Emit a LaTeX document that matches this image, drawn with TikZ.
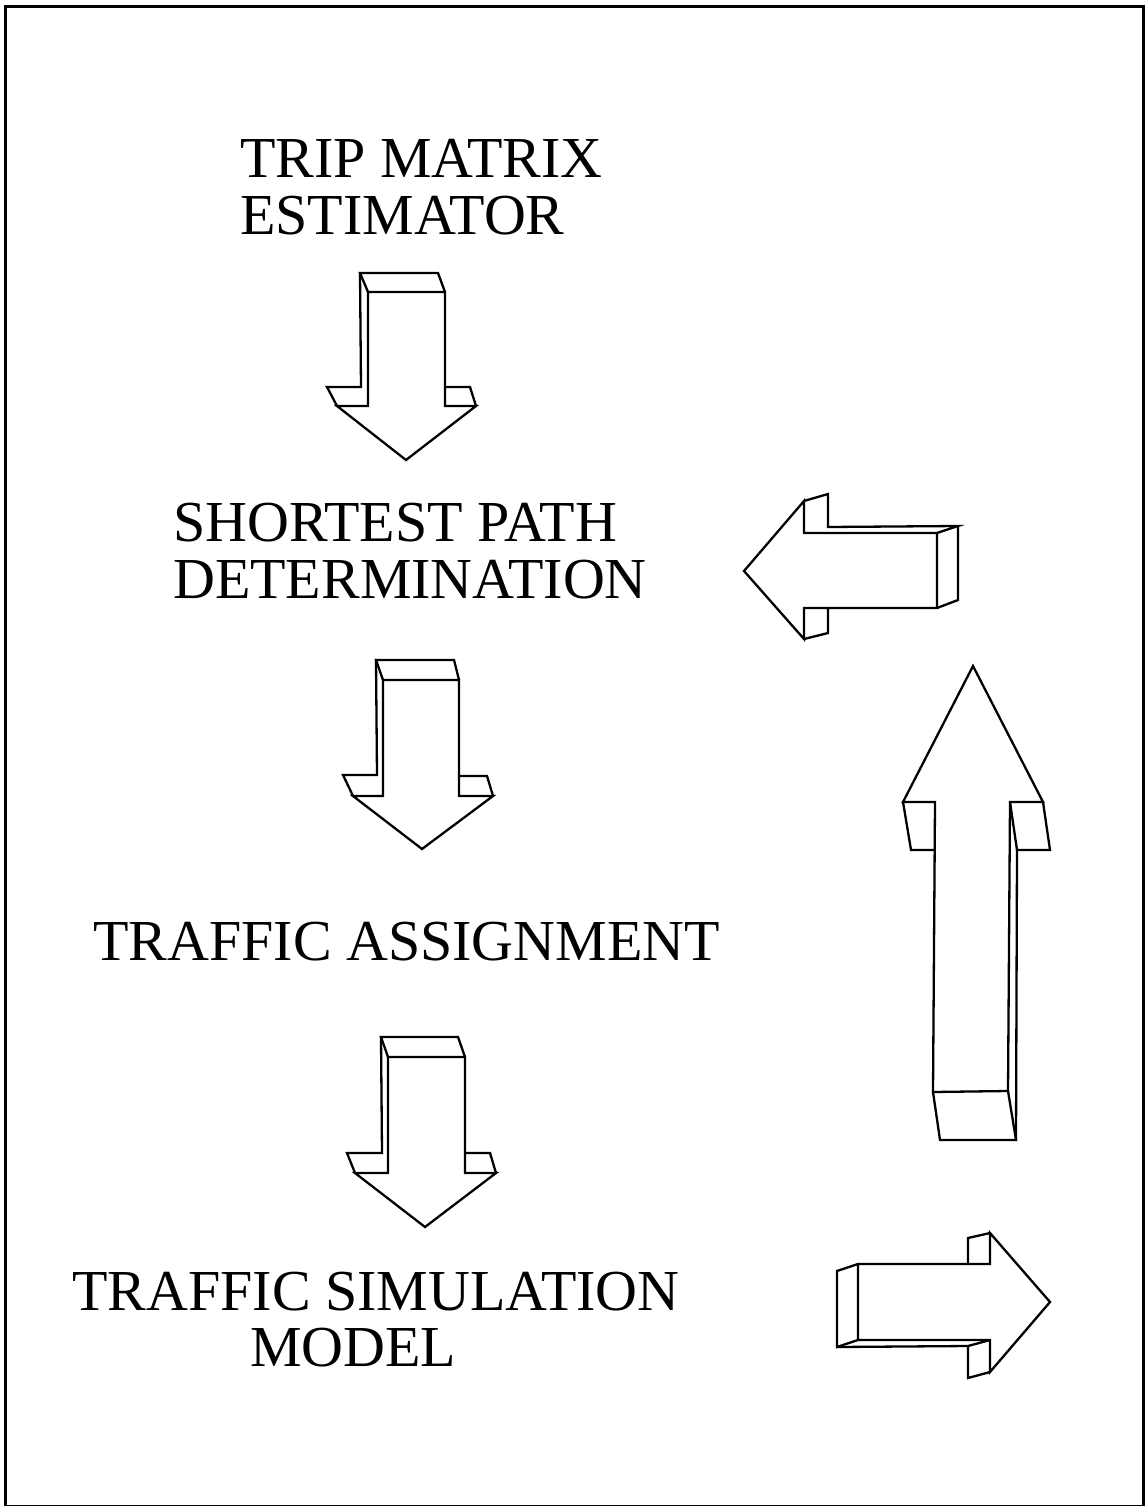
\documentclass[tikz,border=0pt]{standalone}
\usepackage{fontspec}
\setmainfont{Liberation Serif}
\begin{document}
\begin{tikzpicture}[x=1pt,y=-1pt,
  label/.style={anchor=base west,inner sep=0pt,font=\fontsize{58}{58}\selectfont},
  edge/.style={line width=2.3pt,line join=miter,line cap=round},
  frame/.style={line width=3pt}]
\useasboundingbox (0,0) rectangle (1147,1506);
\draw[frame] (5,7) rectangle (1143,1506);

% labels
\node[label] (trip)   at (240,178)  {TRIP MATRIX};
\node[label] (est)    at (240,235)  {ESTIMATOR};
\node[label] (short)  at (173,541)  {SHORTEST PATH};
\node[label] (det)    at (173,598)  {DETERMINATION};
\node[label] (assign) at (93,960)   {TRAFFIC ASSIGNMENT};
\node[label] (sim)    at (72,1310)  {TRAFFIC SIMULATION};
\node[label] (model)  at (250,1366) {MODEL};

% block arrow 1 (down)
\draw[edge] (368,292) -- (445,292) -- (445,406) -- (476,406) -- (406,460) -- (337,406) -- (368,406) -- cycle;
\draw[edge] (368,292) -- (360,273) -- (438,273) -- (445,292);
\draw[edge] (360,273) -- (361,387) -- (327,387) -- (337,406);
\draw[edge] (445,387) -- (470,387) -- (476,406);

% block arrow 2 (down)
\draw[edge] (383,680) -- (459,680) -- (459,796) -- (493,796) -- (422,849) -- (353,796) -- (383,796) -- cycle;
\draw[edge] (383,680) -- (376,660) -- (454,660) -- (459,680);
\draw[edge] (376,660) -- (377,775) -- (343,775) -- (353,796);
\draw[edge] (459,776) -- (487,776) -- (493,796);

% block arrow 3 (down)
\draw[edge] (388,1057) -- (465,1057) -- (465,1173) -- (496,1173) -- (425,1227) -- (355,1173) -- (388,1173) -- cycle;
\draw[edge] (388,1057) -- (381,1037) -- (458,1037) -- (465,1057);
\draw[edge] (381,1037) -- (382,1153) -- (347,1153) -- (355,1173);
\draw[edge] (465,1153) -- (490,1153) -- (496,1173);

% block arrow pointing left
\draw[edge] (744,571) -- (804,501) -- (804,533) -- (937,533) -- (937,608) -- (804,608) -- (804,639) -- cycle;
\draw[edge] (804,501) -- (828,494) -- (828,527) -- (958,526) -- (937,533);
\draw[edge] (958,526) -- (958,600) -- (937,608);
\draw[edge] (804,639) -- (828,633) -- (828,608);

% block arrow pointing up
\draw[edge] (973,666) -- (1043,802) -- (1010,802) -- (1008,1091) -- (933,1092) -- (935,802) -- (903,802) -- cycle;
\draw[edge] (903,802) -- (911,850) -- (935,850);
\draw[edge] (1043,802) -- (1050,850) -- (1017,850) -- (1010,802);
\draw[edge] (1017,850) -- (1016,1140);
\draw[edge] (933,1092) -- (940,1140) -- (1016,1140) -- (1008,1091);

% block arrow pointing right
\draw[edge] (1050,1302) -- (990,1233) -- (990,1264) -- (858,1264) -- (858,1340) -- (990,1340) -- (990,1372) -- cycle;
\draw[edge] (990,1233) -- (968,1238) -- (968,1264);
\draw[edge] (858,1264) -- (837,1271) -- (837,1347) -- (858,1340);
\draw[edge] (837,1347) -- (968,1346) -- (990,1340);
\draw[edge] (968,1346) -- (968,1378) -- (990,1372);
\end{tikzpicture}
\end{document}
